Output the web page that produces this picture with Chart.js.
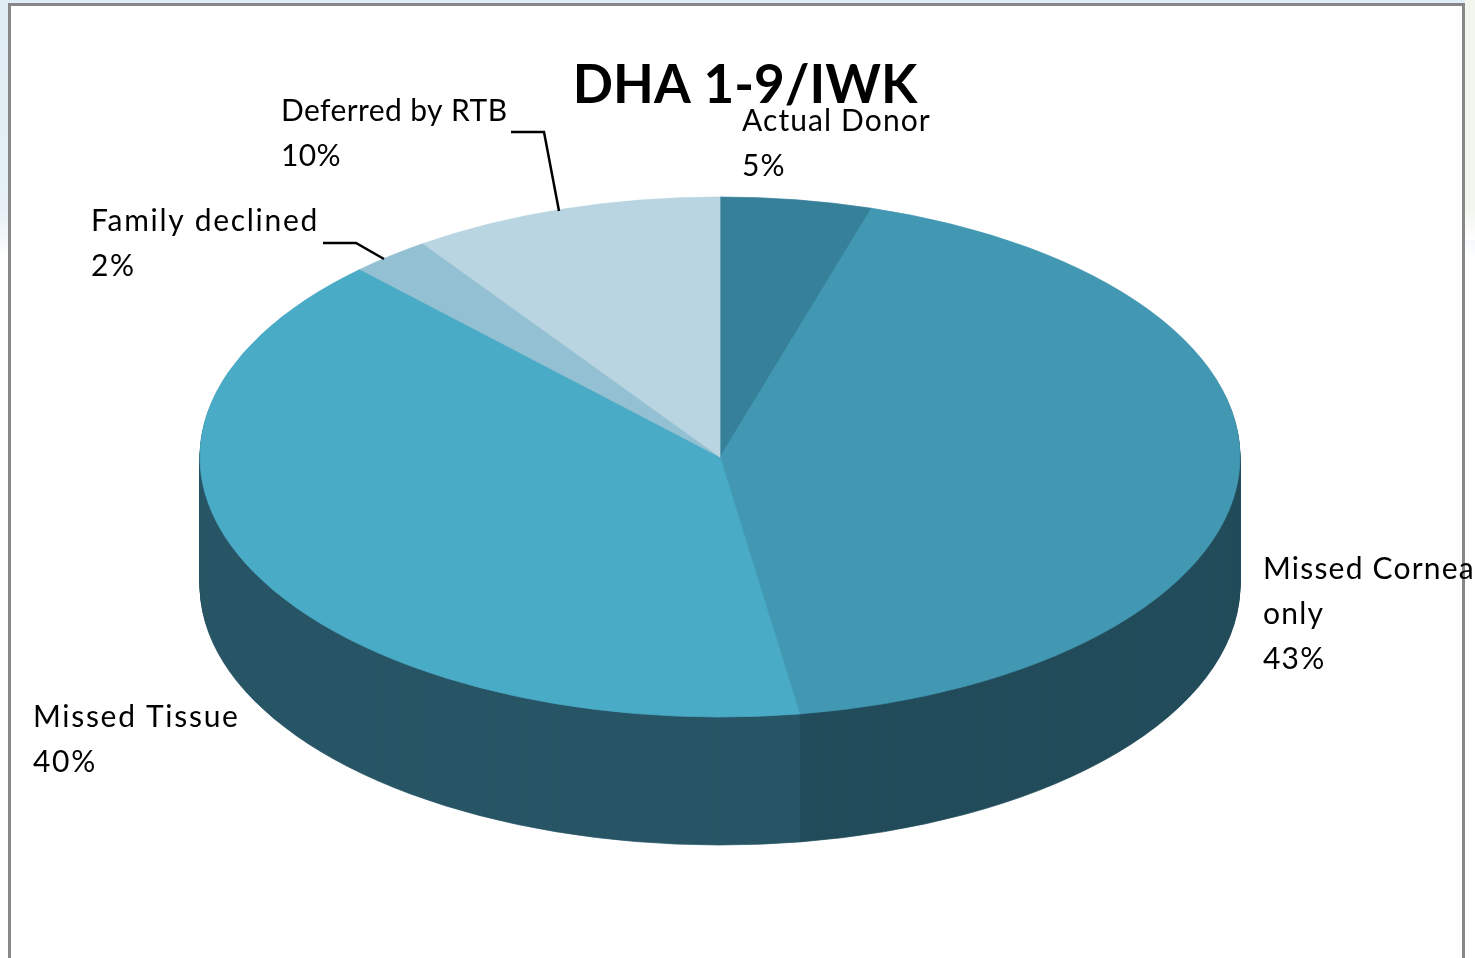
<!DOCTYPE html>
<html>
<head>
<meta charset="utf-8">
<title>DHA 1-9/IWK</title>
<script src="https://cdn.jsdelivr.net/npm/chart.js@4"></script>
<style>
  html, body { margin: 0; padding: 0; width: 1475px; height: 958px; overflow: hidden; background: #fff; }
  #backdrop { position: absolute; left: 0; top: 0; width: 1475px; height: 260px;
    background: linear-gradient(180deg, #e0edf4 0%, #e6f0f5 80%, #ffffff 100%); }
  #backdrop-right { position: absolute; left: 1465px; top: 0; width: 10px; height: 240px;
    background: linear-gradient(180deg, #f3f6ef 0%, #f3f6ef 88%, #ffffff 100%); }
  #frame { position: absolute; left: 8px; top: 3px; width: 1451px; height: 970px;
    border: 3px solid #878787; background: #fff; }
  #pie { position: absolute; left: 0; top: 0; }
</style>
</head>
<body>
<div id="backdrop"></div>
<div id="backdrop-right"></div>
<div id="frame"></div>
<canvas id="pie" width="1475" height="958"></canvas>
<script>
/* Data */
const chartTitle = "DHA 1-9/IWK";
const categories = ["Actual Donor", "Missed Cornea only", "Missed Tissue", "Family declined", "Deferred by RTB"];
const shares = [4.7, 42.85, 40.28, 2.49, 9.68];

/* Colours */
const topColors = ["#37809A", "#4298B2", "#4AABC7", "#93C1D3", "#BAD5E2"];
const sideColors = ["#234C5B", "#234C5B", "#285666", "#285666", "#285666"];

/* Where the pie sits on the page */
const pieX = 720, pieY = 457, pieRadius = 520, squash = 0.5, pieDepth = 128;

/* Label text: first baseline, line breaks, spacing */
const labelFont = "30px Lato";
const labelLineGap = 45;
const labelSpots = [
  { x: 742, y: 131, lines: ["Actual Donor"], spacing: "1.1px" },
  { x: 1263, y: 579, lines: ["Missed Cornea", "only"], spacing: "1.2px" },
  { x: 33, y: 727, lines: ["Missed Tissue"], spacing: "1.7px" },
  { x: 91, y: 231, lines: ["Family declined"], spacing: "1.7px" },
  { x: 281, y: 121, lines: ["Deferred by RTB"], spacing: "0.4px" }
];
const leaderLines = [
  [[323, 243], [356, 243], [384, 259]],
  [[511, 132], [544, 132], [559, 211]]
];

/* Tilt the arcs and build the side wall out of the same arc elements */
const tiltPlugin = {
  id: "tilt",
  beforeDatasetsDraw(chart) {
    const ctx = chart.ctx;
    const arcs = chart.getDatasetMeta(0).data;
    const tilt = (drop) => {
      ctx.translate(pieX, pieY + drop);
      ctx.scale(1, squash);
      ctx.translate(-arcs[0].x, -arcs[0].y);
    };
    for (let d = pieDepth; d > 0; d--) {
      ctx.save();
      tilt(d);
      arcs.forEach((arc, i) => {
        const real = arc.options;
        arc.options = { ...real, backgroundColor: sideColors[i], borderColor: sideColors[i] };
        arc.draw(ctx);
        arc.options = real;
      });
      ctx.restore();
    }
    ctx.save();
    tilt(0);
  },
  afterDatasetsDraw(chart) {
    chart.ctx.restore();
  }
};

const labelPlugin = {
  id: "sliceLabels",
  afterDraw(chart) {
    const ctx = chart.ctx;
    ctx.save();
    ctx.strokeStyle = "#000";
    ctx.lineWidth = 2.5;
    leaderLines.forEach((pts) => {
      ctx.beginPath();
      pts.forEach((p, i) => i ? ctx.lineTo(p[0], p[1]) : ctx.moveTo(p[0], p[1]));
      ctx.stroke();
    });
    ctx.fillStyle = "#000";
    ctx.font = labelFont;
    ctx.textAlign = "left";
    ctx.textBaseline = "alphabetic";
    labelSpots.forEach((spot, i) => {
      ctx.letterSpacing = spot.spacing;
      const rows = spot.lines.concat(Math.round(shares[i]) + "%");
      rows.forEach((row, r) => ctx.fillText(row, spot.x, spot.y + r * labelLineGap));
    });
    ctx.restore();
  }
};

new Chart(document.getElementById("pie").getContext("2d"), {
  type: "pie",
  data: {
    labels: categories,
    datasets: [{
      data: shares,
      backgroundColor: topColors,
      borderColor: topColors,
      borderWidth: 1,
      radius: pieRadius,
      clip: false
    }]
  },
  options: {
    responsive: false,
    animation: false,
    events: [],
    layout: { padding: { left: 15 } },
    plugins: {
      legend: { display: false },
      tooltip: { enabled: false },
      title: {
        display: true,
        text: chartTitle,
        color: "#000",
        font: { family: "Lato", size: 53, weight: "bold" },
        padding: { top: 54, bottom: 0 }
      }
    }
  },
  plugins: [tiltPlugin, labelPlugin]
});
</script>
</body>
</html>
